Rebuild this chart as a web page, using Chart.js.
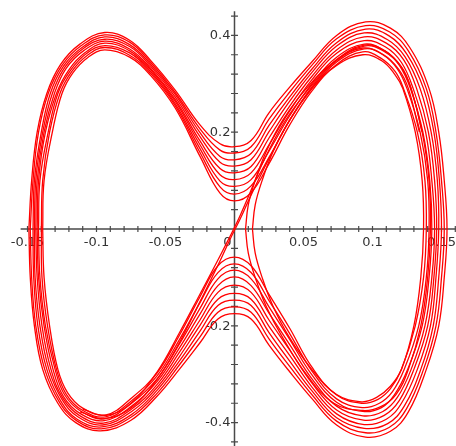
<!DOCTYPE html>
<html>
<head>
<meta charset="utf-8">
<script src="https://cdn.jsdelivr.net/npm/chart.js@4.4.1/dist/chart.umd.min.js"></script>
<style>
    html, body { margin: 0; padding: 0; background: #fff; }
    #wrap { width: 456px; height: 446px; }
    canvas { filter: blur(0.4px); }
</style>
</head>
<body>
<div id="wrap"><canvas id="phase" width="456" height="446"></canvas></div>
<script>
// tick labels
var xTicks = [-0.15, -0.1, -0.05, 0, 0.05, 0.1, 0.15];
var xTickLabels = ['-0.15', '-0.1', '-0.05', '0', '0.05', '0.1', '0.15'];
var yTicks = [-0.4, -0.2, 0.2, 0.4];
var yTickLabels = ['-0.4', '-0.2', '0.2', '0.4'];
var xMinorStep = 0.01;
var yMinorStep = 0.04;
var xAxisFrom = -0.155, xAxisTo = 0.162;
var yAxisFrom = -0.45, yAxisTo = 0.45;

// orbits around both wells, outermost first (each starts at its left turning point)
var loop1 = [[-0.149,0],[-0.147,0.10],[-0.143,0.20],[-0.136,0.28],[-0.126,0.340],[-0.112,0.382],[-0.094,0.406],[-0.076,0.390],[-0.061,0.349],[-0.043,0.287],[-0.025,0.215],[-0.0105,0.176],[0,0.170],[0.012,0.183],[0.025,0.240],[0.040,0.293],[0.056,0.345],[0.074,0.400],[0.095,0.428],[0.113,0.415],[0.127,0.375],[0.141,0.29],[0.148,0.20],[0.152,0.10],[0.154,0],[0.152,-0.10],[0.148,-0.20],[0.139,-0.29],[0.126,-0.378],[0.113,-0.418],[0.095,-0.430],[0.074,-0.405],[0.056,-0.350],[0.040,-0.295],[0.025,-0.240],[0.012,-0.186],[0,-0.175],[-0.012,-0.186],[-0.025,-0.235],[-0.040,-0.290],[-0.056,-0.345],[-0.075,-0.395],[-0.097,-0.417],[-0.115,-0.400],[-0.128,-0.360],[-0.139,-0.29],[-0.145,-0.20],[-0.148,-0.10]];
var loop2 = [[-0.148,0],[-0.146,0.10],[-0.142,0.20],[-0.135,0.28],[-0.125,0.338],[-0.111,0.379],[-0.094,0.401],[-0.076,0.386],[-0.061,0.345],[-0.043,0.282],[-0.025,0.207],[-0.0105,0.163],[0,0.157],[0.012,0.170],[0.025,0.227],[0.040,0.283],[0.056,0.338],[0.074,0.393],[0.095,0.420],[0.1125,0.407],[0.126,0.368],[0.139,0.29],[0.146,0.20],[0.150,0.10],[0.152,0],[0.150,-0.10],[0.146,-0.20],[0.137,-0.29],[0.1245,-0.372],[0.112,-0.410],[0.095,-0.421],[0.074,-0.397],[0.056,-0.342],[0.040,-0.284],[0.025,-0.227],[0.012,-0.172],[0,-0.161],[-0.012,-0.172],[-0.025,-0.223],[-0.040,-0.281],[-0.056,-0.339],[-0.075,-0.389],[-0.0965,-0.413],[-0.1145,-0.396],[-0.127,-0.357],[-0.1375,-0.29],[-0.144,-0.20],[-0.147,-0.10]];
var loop3 = [[-0.146,0],[-0.145,0.10],[-0.140,0.20],[-0.1335,0.28],[-0.124,0.336],[-0.1105,0.375],[-0.094,0.397],[-0.076,0.381],[-0.061,0.341],[-0.043,0.278],[-0.025,0.199],[-0.0105,0.150],[0,0.143],[0.012,0.156],[0.025,0.214],[0.040,0.273],[0.056,0.330],[0.074,0.385],[0.095,0.413],[0.112,0.399],[0.125,0.361],[0.137,0.29],[0.1445,0.20],[0.1485,0.10],[0.150,0],[0.148,-0.10],[0.144,-0.20],[0.135,-0.29],[0.123,-0.366],[0.111,-0.402],[0.094,-0.412],[0.074,-0.390],[0.056,-0.334],[0.040,-0.273],[0.025,-0.214],[0.012,-0.158],[0,-0.147],[-0.012,-0.158],[-0.025,-0.211],[-0.040,-0.273],[-0.056,-0.333],[-0.075,-0.384],[-0.096,-0.409],[-0.114,-0.393],[-0.126,-0.355],[-0.136,-0.29],[-0.1425,-0.20],[-0.1455,-0.10]];
var loop4 = [[-0.145,0],[-0.144,0.10],[-0.139,0.20],[-0.132,0.28],[-0.123,0.334],[-0.110,0.372],[-0.094,0.392],[-0.076,0.377],[-0.061,0.337],[-0.043,0.273],[-0.025,0.191],[-0.0105,0.138],[0,0.130],[0.012,0.143],[0.025,0.201],[0.040,0.264],[0.056,0.323],[0.074,0.378],[0.094,0.405],[0.111,0.391],[0.1235,0.356],[0.1345,0.29],[0.1425,0.20],[0.147,0.10],[0.148,0],[0.146,-0.10],[0.142,-0.20],[0.1325,-0.29],[0.121,-0.360],[0.110,-0.393],[0.094,-0.404],[0.074,-0.382],[0.056,-0.326],[0.040,-0.261],[0.025,-0.201],[0.012,-0.145],[0,-0.133],[-0.012,-0.145],[-0.025,-0.199],[-0.040,-0.264],[-0.056,-0.327],[-0.075,-0.378],[-0.0955,-0.405],[-0.113,-0.389],[-0.125,-0.352],[-0.1345,-0.29],[-0.141,-0.20],[-0.1445,-0.10]];
var loop5 = [[-0.144,0],[-0.143,0.10],[-0.138,0.20],[-0.1305,0.28],[-0.122,0.332],[-0.109,0.369],[-0.094,0.388],[-0.076,0.372],[-0.061,0.333],[-0.043,0.268],[-0.025,0.182],[-0.0105,0.125],[0,0.116],[0.012,0.129],[0.025,0.188],[0.040,0.254],[0.056,0.315],[0.074,0.370],[0.094,0.397],[0.110,0.384],[0.1225,0.350],[0.132,0.29],[0.1405,0.20],[0.145,0.10],[0.1465,0],[0.1445,-0.10],[0.140,-0.20],[0.130,-0.29],[0.1195,-0.354],[0.1085,-0.385],[0.0935,-0.395],[0.074,-0.374],[0.056,-0.318],[0.040,-0.250],[0.025,-0.188],[0.012,-0.131],[0,-0.116],[-0.012,-0.131],[-0.025,-0.188],[-0.040,-0.255],[-0.056,-0.321],[-0.075,-0.373],[-0.095,-0.401],[-0.1125,-0.385],[-0.1245,-0.349],[-0.133,-0.29],[-0.1395,-0.20],[-0.143,-0.10]];
var loop6 = [[-0.143,0],[-0.142,0.10],[-0.137,0.20],[-0.129,0.28],[-0.120,0.329],[-0.108,0.365],[-0.094,0.384],[-0.076,0.368],[-0.061,0.330],[-0.043,0.264],[-0.025,0.174],[-0.0105,0.112],[0,0.102],[0.012,0.116],[0.025,0.174],[0.040,0.244],[0.056,0.308],[0.074,0.363],[0.094,0.389],[0.1095,0.376],[0.121,0.344],[0.1295,0.29],[0.1385,0.20],[0.143,0.10],[0.145,0],[0.143,-0.10],[0.138,-0.20],[0.128,-0.29],[0.118,-0.348],[0.1075,-0.377],[0.093,-0.386],[0.074,-0.366],[0.056,-0.309],[0.040,-0.239],[0.025,-0.174],[0.012,-0.117],[0,-0.099],[-0.012,-0.117],[-0.025,-0.176],[-0.040,-0.246],[-0.056,-0.315],[-0.075,-0.367],[-0.0945,-0.396],[-0.112,-0.381],[-0.124,-0.346],[-0.1315,-0.29],[-0.138,-0.20],[-0.142,-0.10]];
var loop7 = [[-0.142,0],[-0.141,0.10],[-0.135,0.20],[-0.128,0.28],[-0.119,0.327],[-0.1075,0.362],[-0.094,0.379],[-0.076,0.364],[-0.061,0.326],[-0.043,0.259],[-0.025,0.166],[-0.0105,0.099],[0,0.088],[0.012,0.102],[0.025,0.161],[0.040,0.234],[0.056,0.300],[0.074,0.355],[0.094,0.382],[0.109,0.368],[0.1195,0.338],[0.1275,0.29],[0.1365,0.20],[0.1415,0.10],[0.143,0],[0.141,-0.10],[0.136,-0.20],[0.1255,-0.29],[0.116,-0.342],[0.1065,-0.369],[0.093,-0.377],[0.074,-0.358],[0.056,-0.301],[0.040,-0.228],[0.025,-0.161],[0.012,-0.103],[0,-0.085],[-0.012,-0.103],[-0.025,-0.164],[-0.040,-0.238],[-0.056,-0.309],[-0.075,-0.361],[-0.094,-0.392],[-0.111,-0.377],[-0.123,-0.343],[-0.130,-0.29],[-0.137,-0.20],[-0.141,-0.10]];
var loop8 = [[-0.140,0],[-0.139,0.10],[-0.134,0.20],[-0.1265,0.28],[-0.118,0.325],[-0.107,0.358],[-0.094,0.375],[-0.076,0.359],[-0.061,0.322],[-0.043,0.255],[-0.025,0.158],[-0.0105,0.087],[0,0.072],[0.012,0.089],[0.025,0.148],[0.040,0.225],[0.056,0.293],[0.074,0.348],[0.093,0.374],[0.1075,0.360],[0.118,0.331],[0.125,0.29],[0.1345,0.20],[0.140,0.10],[0.141,0],[0.139,-0.10],[0.1335,-0.20],[0.123,-0.29],[0.1145,-0.336],[0.105,-0.360],[0.0925,-0.369],[0.074,-0.351],[0.056,-0.293],[0.040,-0.216],[0.025,-0.148],[0.012,-0.090],[0,-0.072],[-0.012,-0.090],[-0.025,-0.152],[-0.040,-0.229],[-0.056,-0.303],[-0.075,-0.356],[-0.0935,-0.388],[-0.1105,-0.374],[-0.122,-0.341],[-0.129,-0.29],[-0.1355,-0.20],[-0.1395,-0.10]];
var loop9 = [[-0.139,0],[-0.138,0.10],[-0.132,0.20],[-0.125,0.28],[-0.117,0.323],[-0.106,0.355],[-0.094,0.370],[-0.076,0.355],[-0.061,0.318],[-0.043,0.250],[-0.025,0.150],[-0.0105,0.074],[0,0.058],[0.012,0.075],[0.025,0.135],[0.040,0.215],[0.056,0.285],[0.074,0.340],[0.093,0.366],[0.106,0.353],[0.1165,0.325],[0.1225,0.29],[0.1325,0.20],[0.138,0.10],[0.139,0],[0.137,-0.10],[0.131,-0.20],[0.121,-0.29],[0.113,-0.330],[0.104,-0.352],[0.092,-0.360],[0.074,-0.343],[0.056,-0.285],[0.040,-0.205],[0.025,-0.135],[0.012,-0.076],[0,-0.058],[-0.012,-0.076],[-0.025,-0.140],[-0.040,-0.220],[-0.056,-0.297],[-0.075,-0.350],[-0.093,-0.384],[-0.110,-0.370],[-0.121,-0.338],[-0.128,-0.29],[-0.134,-0.20],[-0.138,-0.10]];

// orbits that stay in the right well (start at their inner turning point)
var rightWell1 = [[0.013,0],[0.015,0.05],[0.020,0.10],[0.028,0.16],[0.040,0.225],[0.056,0.29],[0.074,0.338],[0.093,0.360],[0.107,0.347],[0.1165,0.318],[0.122,0.29],[0.131,0.20],[0.136,0.10],[0.137,0],[0.135,-0.10],[0.130,-0.20],[0.121,-0.29],[0.113,-0.325],[0.103,-0.348],[0.092,-0.357],[0.074,-0.342],[0.056,-0.29],[0.040,-0.225],[0.028,-0.16],[0.020,-0.10],[0.015,-0.05]];
var rightWell2 = [[0.008,0],[0.010,0.05],[0.015,0.10],[0.023,0.16],[0.035,0.225],[0.052,0.29],[0.072,0.345],[0.094,0.378],[0.109,0.366],[0.121,0.335],[0.128,0.29],[0.136,0.20],[0.141,0.10],[0.142,0],[0.140,-0.10],[0.135,-0.20],[0.126,-0.29],[0.117,-0.342],[0.106,-0.367],[0.093,-0.375],[0.072,-0.36],[0.052,-0.30],[0.035,-0.225],[0.023,-0.16],[0.015,-0.10],[0.010,-0.05]];

// pieces passing close to the saddle
var nearSaddle1 = [[-0.112,-0.378],[-0.094,-0.392],[-0.075,-0.37],[-0.056,-0.31],[-0.040,-0.235],[-0.025,-0.15],[-0.012,-0.075],[-0.003,-0.02],[0.004,0.02],[0.012,0.07],[0.025,0.145],[0.040,0.225],[0.056,0.29],[0.074,0.345],[0.094,0.372],[0.108,0.36],[0.119,0.33],[0.126,0.29],[0.134,0.20]];
var nearSaddle2 = [[-0.110,-0.372],[-0.093,-0.385],[-0.075,-0.36],[-0.056,-0.295],[-0.040,-0.215],[-0.026,-0.14],[-0.014,-0.075],[-0.005,-0.025],[0.002,0.015],[0.009,0.06],[0.021,0.14],[0.036,0.22],[0.054,0.29],[0.074,0.35],[0.094,0.38],[0.109,0.368],[0.1205,0.336],[0.128,0.29],[0.136,0.20]];

var curveColor = '#ff0000';
var axisColor = '#4a4a4a';
var labelColor = '#333333';

function toPoints(list, closed) {
    var pts = list.map(function (p) {
        return { x: p[0], y: p[1] };
    });
    if (closed) pts.push({ x: list[0][0], y: list[0][1] });
    return pts;
}

function curve(list, closed) {
    return {
        data: toPoints(list, closed),
        showLine: true,
        borderColor: curveColor,
        borderWidth: 1.3,
        pointRadius: 0,
        tension: 0.4,
        fill: false,
    };
}

var axesPlugin = {
    id: 'crossAxes',
    beforeDatasetsDraw: function (chart) {
        var ctx = chart.ctx;
        var xs = chart.scales.x;
        var ys = chart.scales.y;
        var x0 = xs.getPixelForValue(0);
        var y0 = ys.getPixelForValue(0);
        var i, p;

        ctx.save();
        ctx.strokeStyle = axisColor;
        ctx.lineWidth = 1.5;
        ctx.beginPath();
        ctx.moveTo(xs.getPixelForValue(xAxisFrom), y0);
        ctx.lineTo(xs.getPixelForValue(xAxisTo), y0);
        ctx.moveTo(x0, ys.getPixelForValue(yAxisTo));
        ctx.lineTo(x0, ys.getPixelForValue(yAxisFrom));
        ctx.stroke();

        // tick marks cross the axis on both sides
        ctx.lineWidth = 1.2;
        ctx.beginPath();
        for (i = Math.ceil(xAxisFrom / xMinorStep - 1e-6); i * xMinorStep <= xAxisTo + 1e-9; i++) {
            if (i === 0) continue;
            p = xs.getPixelForValue(i * xMinorStep);
            ctx.moveTo(p, y0 - 3);
            ctx.lineTo(p, y0 + 3);
        }
        for (i = Math.ceil(yAxisFrom / yMinorStep - 1e-6); i * yMinorStep <= yAxisTo + 1e-9; i++) {
            if (i === 0) continue;
            p = ys.getPixelForValue(i * yMinorStep);
            ctx.moveTo(x0 - 3.5, p);
            ctx.lineTo(x0 + 3.5, p);
        }
        ctx.stroke();

        ctx.fillStyle = labelColor;
        ctx.font = '13px "DejaVu Sans", sans-serif';
        ctx.textAlign = 'center';
        ctx.textBaseline = 'alphabetic';
        xTicks.forEach(function (v, k) {
            var px = xs.getPixelForValue(v);
            if (v === 0) px -= 7;
            ctx.fillText(xTickLabels[k], px, y0 + 17.5);
        });
        ctx.textAlign = 'right';
        ctx.textBaseline = 'middle';
        yTicks.forEach(function (v, k) {
            ctx.fillText(yTickLabels[k], x0 - 4, ys.getPixelForValue(v) + 0.5);
        });
        ctx.restore();
    },
};

var datasets = [loop1, loop2, loop3, loop4, loop5, loop6, loop7, loop8, loop9].map(function (l) {
    return curve(l, true);
});
datasets.push(curve(rightWell1, true));
datasets.push(curve(rightWell2, true));
datasets.push(curve(nearSaddle1, false));
datasets.push(curve(nearSaddle2, false));

new Chart(document.getElementById('phase').getContext('2d'), {
    type: 'scatter',
    data: { datasets: datasets },
    options: {
        responsive: false,
        animation: false,
        layout: { padding: 0 },
        plugins: {
            legend: { display: false },
            tooltip: { enabled: false },
        },
        scales: {
            x: { type: 'linear', min: -0.16993, max: 0.16051, display: false },
            y: { type: 'linear', min: -0.44835, max: 0.47314, display: false },
        },
    },
    plugins: [axesPlugin],
});
</script>
</body>
</html>
